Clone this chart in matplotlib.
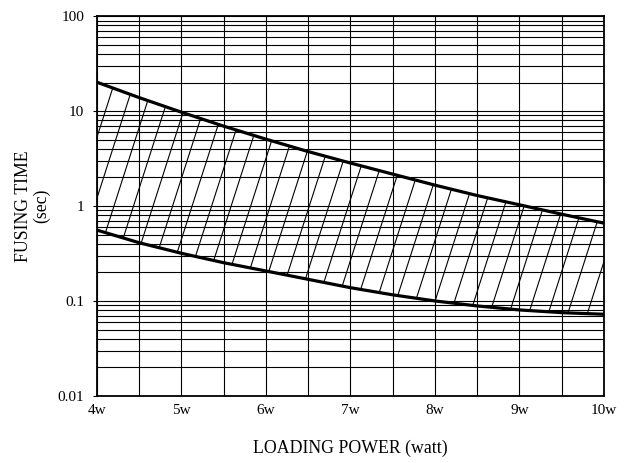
import matplotlib
matplotlib.use("Agg")
import matplotlib.pyplot as plt
import numpy as np
from matplotlib.collections import LineCollection
from matplotlib.ticker import LogLocator, NullFormatter, FixedLocator

# fusing characteristic band
power = [4.0, 4.5, 5.0, 5.5, 6.0, 6.5, 7.0, 7.5, 8.0, 8.5, 9.0, 9.5, 10.0]
t_max = [20.2, 13.9, 9.76, 6.95, 5.07, 3.75, 2.84, 2.17, 1.66, 1.29, 1.03, 0.82, 0.66]
t_min = [0.559, 0.411, 0.318, 0.253, 0.207, 0.169, 0.138, 0.116, 0.100, 0.0886, 0.0804, 0.0753, 0.0724]

x_ticks = [4, 5, 6, 7, 8, 9, 10]
x_labels = ["4w", "5w", "6w", "7w", "8w", "9w", "10w"]
y_ticks = [0.01, 0.1, 1, 10, 100]
y_labels = ["0.01", "0.1", "1", "10", "100"]

plt.rcParams["font.family"] = ["Liberation Serif", "DejaVu Serif"]

fig = plt.figure(figsize=(6.24, 4.63), dpi=100)
ax = fig.add_axes([0.155, 0.145, 0.813, 0.82])
ax.set_yscale("log")
ax.set_xlim(4, 10)
ax.set_ylim(0.01, 100)

ax.set_xticks(x_ticks)
ax.set_xticklabels(x_labels)
ax.xaxis.set_minor_locator(FixedLocator(np.arange(4.5, 10, 1.0)))
ax.set_yticks(y_ticks)
ax.set_yticklabels(y_labels)
ax.yaxis.set_minor_locator(LogLocator(base=10, subs=np.arange(2, 10)))
ax.yaxis.set_minor_formatter(NullFormatter())
ax.tick_params(axis="both", which="both", labelsize=11, color="black")
ax.tick_params(axis="x", which="both", length=0, pad=6)
ax.tick_params(axis="y", which="major", length=3, pad=6)
ax.tick_params(axis="y", which="minor", length=0)

ax.grid(which="both", color="black", lw=0.8)
ax.set_axisbelow(True)
for s in ax.spines.values():
    s.set_linewidth(1.3)

# band + steep hatch, clipped to the band
band = ax.fill_between(power, t_min, t_max, facecolor="none", edgecolor="none")
clip = band.get_paths()[0]
step = 0.0385   # horizontal spacing in axes fraction
lean = 0.24     # x drift over full axes height
segs = [[(x0, 0.0), (x0 + lean, 1.0)] for x0 in np.arange(-lean, 1.0 + step, step)]
hatch = LineCollection(segs, colors="black", linewidths=0.8, transform=ax.transAxes)
hatch.set_clip_path(clip, ax.transData)
ax.add_collection(hatch)

ax.plot(power, t_max, color="black", lw=2.3)
ax.plot(power, t_min, color="black", lw=2.3)

ax.set_xlabel("LOADING POWER (watt)", fontsize=12.8, labelpad=16)
ax.set_ylabel("FUSING TIME\n(sec)", fontsize=12.8, labelpad=5, linespacing=1.1)

fig.savefig("out.png", dpi=100)
